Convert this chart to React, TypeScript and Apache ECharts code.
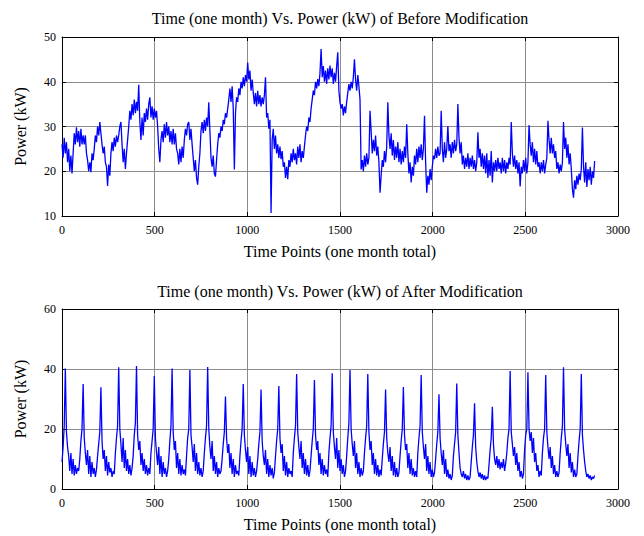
import React, { useEffect, useRef } from "react";
import * as echarts from "echarts";

// Sampling step of the stored values (time points)
const STEP = 6;

const xTicks = [0, 500, 1000, 1500, 2000, 2500, 3000];
const topTitle = "Time (one month) Vs. Power (kW) of Before Modification";
const bottomTitle = "Time (one month) Vs. Power (kW) of After Modification";
const xLabel = "Time Points (one month total)";
const yLabel = "Power (kW)";

// Before modification, value every 6 time points (t = 0, 6, 12, ...)
const beforePower = [
  26, 23, 27.5, 24, 26.5, 22, 25, 20, 23.5, 19.5,
  24, 28.5, 26, 29.8, 26.5, 29, 25.5, 29.5, 26, 28,
  26, 28, 24, 22.5, 20, 22, 19.8, 24, 22.5, 25,
  28, 26.5, 30, 28, 31, 28.5, 26, 24, 25.5, 22,
  21, 16.7, 21.5, 19, 24, 26.5, 24.5, 27.5, 25.5, 28,
  26.5, 28, 30, 31, 26, 22, 25, 20.5, 24, 27,
  30, 33.5, 31.5, 35, 32.5, 36, 33, 35.5, 33.5, 39.3,
  31, 27, 32, 28, 33, 31, 34, 31.5, 35, 36.5,
  32, 34.5, 31.5, 34, 32, 33.5, 30, 25, 22, 27,
  29, 26.5, 30.5, 27.5, 31, 28, 30, 26.5, 29, 26,
  29.5, 26, 28.5, 25, 24, 21.5, 25, 22, 25.5, 23,
  27, 29.5, 28, 30.5, 31, 27, 29.5, 26, 23, 20,
  22.5, 18.5, 17, 21, 24, 29, 31, 28.5, 31.5, 29,
  32, 30, 35.4, 29, 23, 21, 23.5, 19.5, 18.8, 22.5,
  26, 28.5, 27.5, 30, 29, 31.5, 30.5, 33, 32, 34,
  36, 38.5, 35.5, 39, 34, 20.4, 33, 36.5, 35.5, 38.5,
  37, 40, 38.5, 41, 39, 41.5, 40, 44.3, 40.5, 42.5,
  38, 40.5, 37.5, 35, 37.5, 34.5, 38, 35, 37, 34.5,
  36.5, 35, 37, 41, 32, 33, 29.5, 31.5, 10.7, 27,
  29.5, 25, 28, 24, 26, 23, 25.5, 22.7, 24.5, 21,
  22, 18.5, 21, 18.2, 22.5, 21, 24, 22, 25, 22.5,
  24, 21.5, 25.5, 23, 26, 22, 24.5, 23, 25.5, 28,
  30, 29, 32, 31, 34, 36, 38, 37, 40, 38.5,
  40.6, 39, 42, 47.3, 41, 43.5, 40, 42.5, 39.5, 43,
  40.5, 43.6, 41, 43, 39.5, 42, 40, 43.5, 46.6, 38,
  35.4, 34, 35, 32.5, 34.5, 33, 35.5, 37.5, 39.5, 38,
  40, 38.5, 41, 45, 40.5, 38, 41.5, 39, 36, 20.4,
  22.5, 20, 23.5, 21, 24, 21.5, 23, 33.5, 29, 24,
  27, 24.5, 28, 23.5, 25.5, 22, 15.2, 19, 22.5, 21,
  24.5, 22, 25.5, 35.4, 28, 25, 28.5, 23.5, 27, 22.5,
  25.5, 23, 26.5, 22, 25, 21.5, 24.5, 22, 25.5, 23,
  30.5, 24, 19.5, 22, 17.5, 21, 19, 23.5, 21.5, 25,
  22, 25.5, 23, 26, 22.5, 25, 32.4, 22, 15.2, 19,
  17, 20.5, 18, 21, 23.5, 22.7, 25, 23, 25.5, 23.5,
  24, 33.5, 25, 22, 26.5, 23, 25, 30.1, 24.5, 26,
  23, 26.5, 24, 27, 24.5, 26, 35, 27.5, 24, 26.5,
  21.5, 23.5, 20.5, 23, 21, 24, 20.5, 23, 21, 23.5,
  20.5, 22.5, 20, 22, 28.7, 23, 25, 21, 24, 20.5,
  23.5, 19.5, 24, 18.5, 22.5, 19, 24.5, 17.5, 22, 20,
  22.5, 20, 23, 20.5, 22, 19.5, 23, 20, 22.5, 19.5,
  22, 20.5, 23, 21.5, 31, 24, 21, 23.5, 20.5, 22.5,
  19.5, 22, 16.6, 21, 19.5, 22.5, 20, 23, 19.5, 22,
  30.3, 26, 23.5, 26.5, 22, 25, 21.5, 24.5, 21, 22,
  19.5, 22, 20, 22.5, 19.5, 21.5, 23, 31.3, 27, 24,
  27.5, 24, 26, 23, 24.5, 20.5, 22, 19.5, 21.5, 20,
  22, 31, 25, 27.5, 23, 26, 21.5, 24, 20.5, 16,
  14.1, 18, 16, 19, 17, 19.5, 18, 20.5, 29.8, 21,
  17.5, 22, 16.5, 20.5, 18, 21, 17, 20, 18.5, 22.3,
];

// After modification, value every 6 time points; one line per day (96 points)
const afterPower = [
  9, 14, 21, 40.2, 19, 14, 11, 6, 12, 5, 10, 4.5, 8, 5, 7, 6,
  10, 16, 20, 35, 17, 12, 8, 13, 5, 11, 4, 9, 5, 7, 4, 6.5,
  11, 15, 19, 33.9, 16, 10, 13, 6, 11, 4.5, 9, 5.5, 7, 4, 6, 5,
  12, 17, 21, 40.6, 20, 15, 9, 17, 7, 13, 6, 10, 5, 8, 4.5, 7,
  11, 18, 22, 41, 18, 13, 16, 8, 12, 6, 10, 5, 8, 4.5, 7, 5,
  12, 16, 20, 37.7, 17, 12, 8, 14, 5, 11, 4, 9, 5, 7, 4, 6,
  10, 16, 21, 40.2, 19, 13, 16, 7, 12, 5, 10, 4.5, 8, 5, 6.5, 4.5,
  11, 17, 20, 39.7, 18, 14, 9, 15, 6, 12, 5, 9, 4.5, 7, 4, 6,
  12, 17, 21, 40.7, 20, 14, 10, 16, 6, 11, 5, 9, 4, 7, 5, 6,
  10, 15, 19, 30.8, 17, 12, 15, 7, 12, 5, 10, 4, 8, 5, 6, 4.5,
  11, 16, 20, 35, 18, 13, 9, 14, 5, 11, 4, 9, 4.5, 7, 4, 6,
  10, 15, 19, 33.2, 16, 11, 8, 13, 5, 10, 4, 8, 4.5, 7, 3.5, 5.5,
  11, 16, 20, 34.3, 17, 12, 15, 6, 11, 4.5, 9, 4, 7, 5, 6, 4,
  12, 17, 21, 38.3, 19, 14, 10, 16, 7, 12, 5, 10, 4.5, 8, 4, 6,
  11, 16, 20, 36.3, 18, 13, 16, 8, 12, 5, 10, 4.5, 8, 5, 6.5, 4,
  12, 17, 21, 38.6, 19, 14, 10, 17, 7, 13, 6, 10, 5, 8, 4, 6,
  11, 17, 22, 39.7, 20, 15, 11, 16, 7, 12, 5, 9, 4, 7, 4.5, 6,
  12, 17, 21, 38.3, 19, 13, 16, 8, 12, 5, 10, 4.5, 8, 4, 6.5, 4.5,
  10, 15, 19, 33.2, 17, 12, 9, 14, 6, 11, 4.5, 9, 4, 7, 4, 5.5,
  11, 16, 20, 34, 18, 13, 15, 7, 12, 5, 10, 4.5, 7, 4, 6, 4,
  12, 17, 21, 38, 19, 14, 10, 15, 6, 11, 5, 9, 4, 6.5, 4, 5.5,
  10, 15, 19, 31.6, 17, 12, 8, 13, 5, 10, 4, 6.5, 3.5, 5, 3, 4.5,
  11, 15, 19, 35.2, 18, 12, 7, 5, 4, 6, 3.5, 5, 3, 4.5, 3, 4,
  9, 14, 18, 28.6, 14, 9, 6, 4, 5.5, 3.5, 5, 3, 4.5, 3, 4, 3.5,
  8, 13, 17, 27.4, 15, 10, 8, 11, 7, 10, 6.5, 9, 7, 10, 6, 8.5,
  12, 17, 20, 39.3, 19, 15, 11, 14, 8, 12, 6, 9, 4, 6, 3.5, 5,
  13, 18, 20, 38.9, 20, 16, 19, 12, 17, 9, 12, 6, 8, 4, 6, 4.5,
  12, 17, 20, 38, 19, 14, 10, 14, 7, 11, 5, 8, 4, 6, 4, 5.5,
  12, 17, 21, 40.6, 20, 15, 11, 15, 7, 12, 5.5, 9, 4, 6.5, 4, 5,
  11, 16, 20, 38.3, 18, 13, 9, 6, 4, 5, 3.5, 4.5, 3, 4, 3.5, 4.5,
];

const FONT = "'Liberation Serif', 'Times New Roman', serif";

function toPairs(values: number[]) {
  return values.map((v, i) => [i * STEP, v]);
}

const plainNumber = (v: number) => String(v);

function axisPair(gridIndex: number, withName: boolean) {
  const base = {
    gridIndex,
    type: "value" as const,
    min: xTicks[0],
    max: xTicks[xTicks.length - 1],
    interval: xTicks[1] - xTicks[0],
  };
  return [
    {
      ...base,
      position: "bottom",
      axisLine: { show: true, onZero: false, lineStyle: { color: "#000", width: 1 } },
      axisTick: { show: true, inside: true, length: 4, lineStyle: { color: "#000" } },
      axisLabel: { color: "#000", fontSize: 12, margin: 8, fontFamily: FONT, formatter: plainNumber },
      splitLine: { show: true, lineStyle: { color: "#8c8c8c", width: 1 } },
      name: withName ? xLabel : "",
      nameLocation: "middle",
      nameGap: 27,
      nameTextStyle: { color: "#000", fontSize: 16, fontFamily: FONT },
    },
    {
      ...base,
      position: "top",
      axisLine: { show: true, onZero: false, lineStyle: { color: "#000", width: 1 } },
      axisTick: { show: true, inside: true, length: 4, lineStyle: { color: "#000" } },
      axisLabel: { show: false },
      splitLine: { show: false },
    },
  ];
}

function yPair(gridIndex: number, min: number, max: number, interval: number) {
  const base = { gridIndex, type: "value" as const, min, max, interval };
  return [
    {
      ...base,
      position: "left",
      axisLine: { show: true, onZero: false, lineStyle: { color: "#000", width: 1 } },
      axisTick: { show: true, inside: true, length: 4, lineStyle: { color: "#000" } },
      axisLabel: { color: "#000", fontSize: 12, margin: 6, fontFamily: FONT, formatter: plainNumber },
      splitLine: { show: true, lineStyle: { color: "#8c8c8c", width: 1 } },
      name: yLabel,
      nameLocation: "middle",
      nameGap: 34,
      nameTextStyle: { color: "#000", fontSize: 16, fontFamily: FONT },
    },
    {
      ...base,
      position: "right",
      axisLine: { show: true, onZero: false, lineStyle: { color: "#000", width: 1 } },
      axisTick: { show: true, inside: true, length: 4, lineStyle: { color: "#000" } },
      axisLabel: { show: false },
      splitLine: { show: false },
    },
  ];
}

export default function App() {
  const ref = useRef<HTMLDivElement>(null);

  useEffect(() => {
    document.body.style.margin = "0";
    if (!ref.current) return;
    const chart = echarts.init(ref.current, undefined, { renderer: "svg" });
    const gridLeft = 62;
    const gridWidth = 556;
    const cx = gridLeft + gridWidth / 2;
    chart.setOption({
      animation: false,
      backgroundColor: "#fff",
      textStyle: { fontFamily: FONT },
      grid: [
        { left: gridLeft, top: 37, width: gridWidth, height: 179 },
        { left: gridLeft, top: 309, width: gridWidth, height: 180 },
      ],
      xAxis: [...axisPair(0, true), ...axisPair(1, true)],
      yAxis: [...yPair(0, 10, 50, 10), ...yPair(1, 0, 60, 20)],
      graphic: [
        {
          type: "text",
          x: cx,
          y: 18,
          style: {
            text: topTitle,
            fontSize: 16,
            fontFamily: FONT,
            fill: "#000",
            textAlign: "center",
            textVerticalAlign: "middle",
          },
        },
        {
          type: "text",
          x: cx,
          y: 291,
          style: {
            text: bottomTitle,
            fontSize: 16,
            fontFamily: FONT,
            fill: "#000",
            textAlign: "center",
            textVerticalAlign: "middle",
          },
        },
      ],
      series: [
        {
          type: "line",
          xAxisIndex: 0,
          yAxisIndex: 0,
          data: toPairs(beforePower),
          showSymbol: false,
          symbol: "none",
          lineStyle: { color: "#0000ff", width: 1.3 },
        },
        {
          type: "line",
          xAxisIndex: 2,
          yAxisIndex: 2,
          data: toPairs(afterPower),
          showSymbol: false,
          symbol: "none",
          lineStyle: { color: "#0000ff", width: 1.3 },
        },
      ],
    });
    return () => chart.dispose();
  }, []);

  return <div ref={ref} style={{ width: 644, height: 536 }} />;
}
